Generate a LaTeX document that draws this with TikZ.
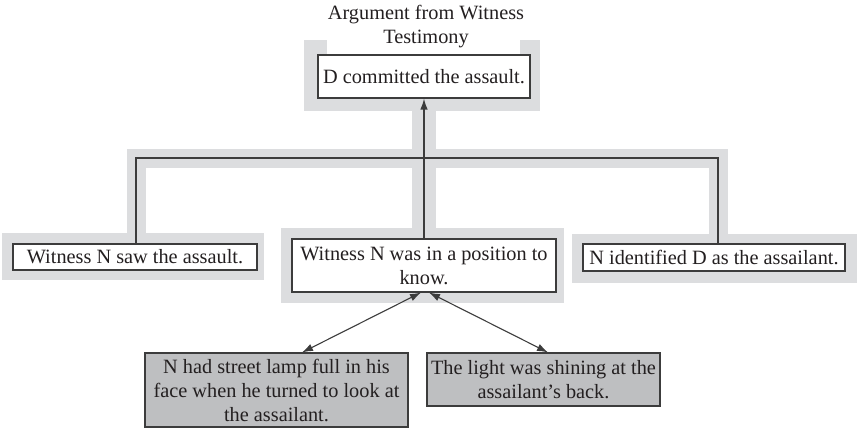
\documentclass[tikz,border=0pt]{standalone}
\usepackage{fontspec}
\setmainfont{Liberation Serif}
\usetikzlibrary{calc,backgrounds,arrows.meta}

\definecolor{halogray}{HTML}{DCDDDF}
\definecolor{boxgray}{HTML}{BEBFC1}
\definecolor{ink}{HTML}{231F20}
\definecolor{edge}{HTML}{3C3C3C}

\tikzset{
  txt/.style={font=\fontsize{20.3}{24}\selectfont, text=ink, align=center, inner sep=0pt},
  claim/.style={txt, draw=edge, line width=1.1pt, fill=white},
  premise/.style={claim},
  evidence/.style={claim, fill=boxgray},
  halo/.style={fill=halogray},
  haloline/.style={draw=halogray, line cap=butt, line join=miter},
  link/.style={draw=edge, line width=1.4pt},
  argtip/.tip={Latex[length=11pt,width=7.5pt]}
}

\begin{document}
\begin{tikzpicture}[x=1pt,y=-1pt]
  \useasboundingbox (0,0) rectangle (857,428);

  % title and conclusion
  \node[txt] (title) at (426,27) {Argument from Witness\\Testimony};
  \node[claim, minimum width=212pt, minimum height=43pt] (tb) at (424,76.5) {D committed the assault.};

  % premises
  \node[premise, minimum width=244pt, minimum height=26pt] (lb) at (135,257) {Witness N saw the assault.};
  \node[premise, minimum width=264pt, minimum height=53pt] (mb) at (424,265.5) {Witness N was in a position to\\know.};
  \node[premise, minimum width=262pt, minimum height=27pt] (rb) at (714,257.5) {N identified D as the assailant.};

  % supporting evidence
  \node[evidence, minimum width=263pt, minimum height=74pt] (bl) at (276.5,390) {N had street lamp full in his\\face when he turned to look at\\the assailant.};
  \node[evidence, minimum width=233pt, minimum height=53pt] (br) at (543.5,379.5) {The light was shining at the\\assailant’s back.};

  % junction points of the linked premises
  \coordinate (jl) at (136,158);
  \coordinate (jr) at (718,158);
  \coordinate (ml) at ($(mb.south)+(-3,0)$);
  \coordinate (mr) at ($(mb.south)+(5,0)$);
  \coordinate (bla) at (bl.north -| 302,0);
  \coordinate (bra) at (br.north -| 548,0);

  % light gray frame behind the argument structure
  \begin{pgfonlayer}{background}
    \fill[halo] ($(tb.north west)+(-13,-14)$) rectangle ($(tb.south east)+(9,12)$);
    \fill[white] ($(tb.north west)+(10,-14)$) rectangle ($(tb.north east)+(-11,0)$);
    \draw[haloline, line width=24pt] (tb.south) -- (mb.north);
    \draw[haloline, line width=19pt] (lb.north -| jl) -- (jl) -- (jr) -- (rb.north -| jr);
    \fill[halo] ($(lb.north west)+(-10,-10)$) rectangle ($(lb.south east)+(6,9)$);
    \fill[halo] ($(mb.north west)+(-10,-10)$) rectangle ($(mb.south east)+(7,10)$);
    \fill[halo] ($(rb.north west)+(-10,-9)$) rectangle ($(rb.south east)+(11,11)$);
  \end{pgfonlayer}

  % connectors
  \draw[link] (lb.north -| jl) -- (jl) -- (jr) -- (rb.north -| jr);
  \draw[link, -argtip] (mb.north) -- (tb.south);
  \draw[link, line width=1.1pt, argtip-argtip] (ml) -- (bla);
  \draw[link, line width=1.1pt, argtip-argtip] (mr) -- (bra);
\end{tikzpicture}
\end{document}
